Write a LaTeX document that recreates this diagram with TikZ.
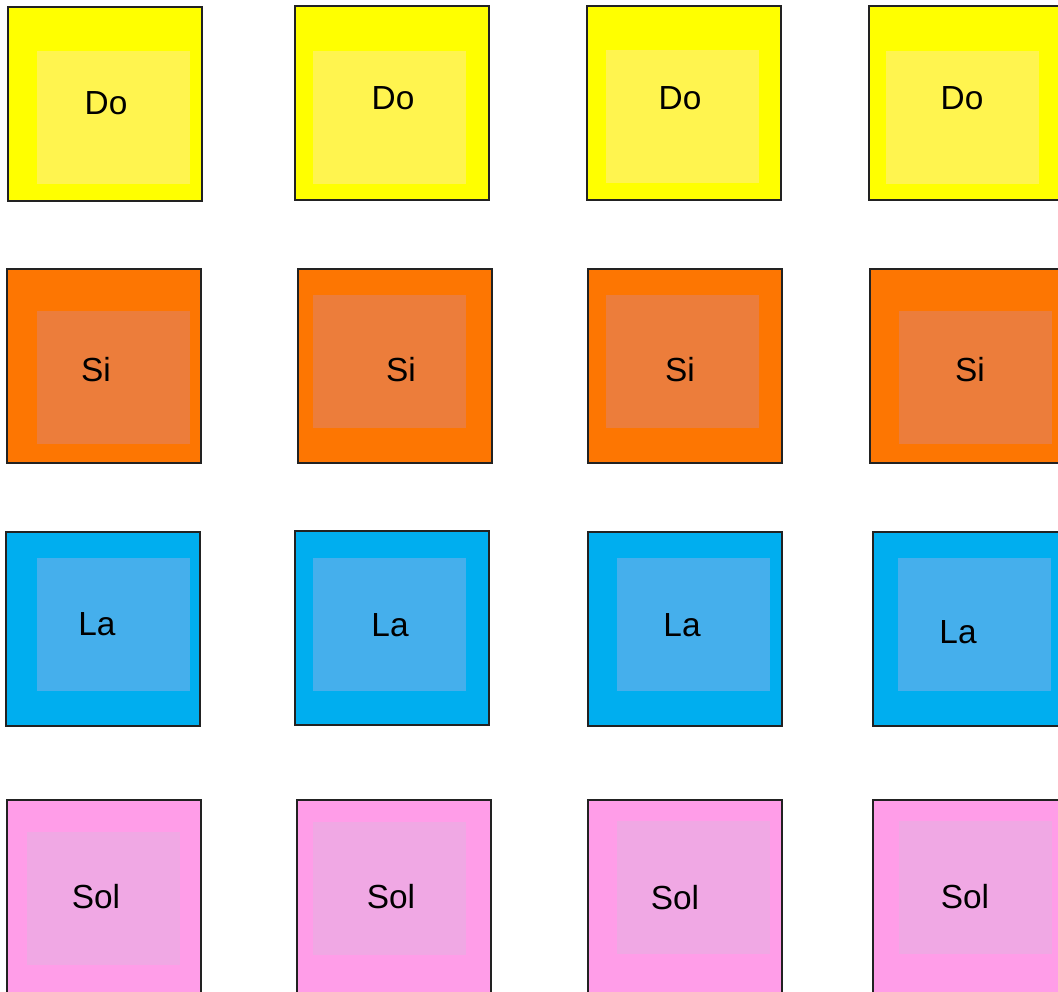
\documentclass[tikz,border=0pt]{standalone}
\usepackage{fontspec}
\setmainfont{Liberation Sans}
\usepackage{tikz}
\usetikzlibrary{positioning}
\usepackage{xcolor}

\definecolor{Doout}{HTML}{FFFF00}
\definecolor{Doin}{HTML}{FFF44F}
\definecolor{Siout}{HTML}{FD7602}
\definecolor{Siin}{HTML}{EC7D3B}
\definecolor{Laout}{HTML}{00AEEF}
\definecolor{Lain}{HTML}{45AFEC}
\definecolor{Solout}{HTML}{FF9DE8}
\definecolor{Solin}{HTML}{F0A8E4}
\definecolor{padrim}{HTML}{222222}

\tikzset{
  pad/.style={draw=padrim,line width=1.4pt,anchor=north west,inner sep=0pt,
    minimum width=3.88cm,minimum height=3.88cm},
  padcore/.style={anchor=north west,inner sep=0pt,
    minimum width=3.06cm,minimum height=2.66cm},
  padname/.style={inner sep=0pt,font=\fontsize{19}{22}\selectfont}
}

\begin{document}
\begin{tikzpicture}[x=0.02cm,y=-0.02cm]
\useasboundingbox (0,0) rectangle (1058,991);
\clip (0,0) rectangle (1058,991);
% one tile: outer pad, lighter core, note name
\foreach \nm/\ox/\oy/\ix/\iy/\tx/\ty/\lbl in {
  do1/7/6/37/51/106/103/Do, do2/294/5/313/51/393/98/Do,
  do3/586/5/606/50/680/98/Do, do4/868/5/886/51/962/98/Do,
  si1/6/268/37/311/96/370/Si, si2/297/268/313/295/401/370/Si,
  si3/587/268/606/295/680/370/Si, si4/869/268/899/311/970/370/Si,
  la1/5/531/37/558/97/624/La, la2/294/530/313/558/390/625/La,
  la3/587/531/617/558/682/625/La, la4/872/531/898/558/958/632/La,
  sol1/6/799/27/832/96/897/Sol, sol2/296/799/313/822/391/897/Sol,
  sol3/587/799/617/821/675/898/Sol, sol4/872/799/899/821/965/897/Sol}
{
  \node[pad,fill=\lbl out] (\nm) at (\ox,\oy) {};
  \node[padcore,fill=\lbl in] (\nm-c) at (\ix,\iy) {};
  \node[padname] (\nm-t) at (\tx,\ty) {\lbl};
}
\end{tikzpicture}
\end{document}
